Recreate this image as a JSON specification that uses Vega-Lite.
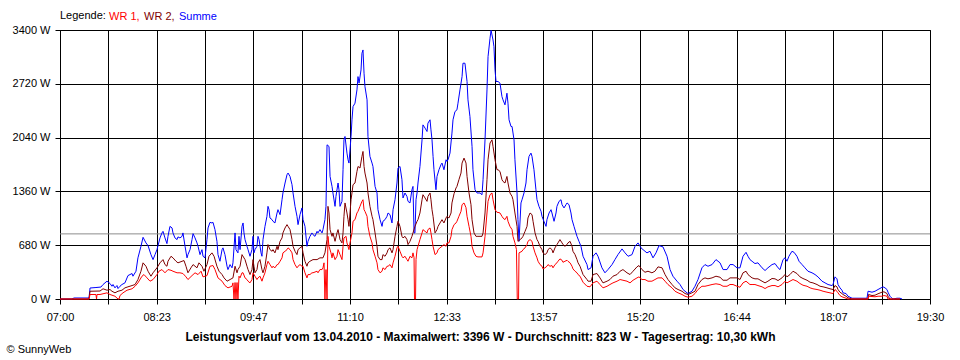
{
"$schema": "https://vega.github.io/schema/vega-lite/v6.json",
"width": 870, "height": 269,
"autosize": {"type": "none"},
"padding": {"left": 60, "top": 30, "right": 30, "bottom": 61},
"background": "white",
"config": {"view": {"stroke": "black", "strokeWidth": 1}, "font": "Liberation Sans"},
"layer": [
{"data": {"values": [{"avg": 823}]}, "mark": {"type": "rule", "color": "#8C8C8C", "strokeWidth": 1}, "encoding": {"y": {"field": "avg", "type": "quantitative"}}},
{"data": {"values": [
{"s":"Summe","t":420,"w":0},{"s":"Summe","t":430.3,"w":0},{"s":"Summe","t":432.1,"w":13},{"s":"Summe","t":445,"w":13},{"s":"Summe","t":445.9,"w":139},{"s":"Summe","t":451,"w":145},{"s":"Summe","t":455.3,"w":151},{"s":"Summe","t":457.1,"w":183},{"s":"Summe","t":460.5,"w":225},{"s":"Summe","t":463.1,"w":196},{"s":"Summe","t":464.8,"w":161},{"s":"Summe","t":465.7,"w":183},{"s":"Summe","t":467.4,"w":141},{"s":"Summe","t":469.1,"w":170},{"s":"Summe","t":470,"w":132},{"s":"Summe","t":471.7,"w":161},{"s":"Summe","t":473.4,"w":183},{"s":"Summe","t":476,"w":204},{"s":"Summe","t":478.6,"w":296},{"s":"Summe","t":482.1,"w":322},{"s":"Summe","t":482.9,"w":288},{"s":"Summe","t":485.5,"w":351},{"s":"Summe","t":487.2,"w":520},{"s":"Summe","t":489.8,"w":666},{"s":"Summe","t":491.6,"w":780},{"s":"Summe","t":494.1,"w":709},{"s":"Summe","t":495.9,"w":675},{"s":"Summe","t":498.4,"w":561},{"s":"Summe","t":500.2,"w":498},{"s":"Summe","t":501.9,"w":561},{"s":"Summe","t":503.6,"w":624},{"s":"Summe","t":504.5,"w":675},{"s":"Summe","t":506.2,"w":772},{"s":"Summe","t":507.9,"w":835},{"s":"Summe","t":508.8,"w":855},{"s":"Summe","t":510.5,"w":772},{"s":"Summe","t":512.2,"w":700},{"s":"Summe","t":513.1,"w":792},{"s":"Summe","t":514.8,"w":918},{"s":"Summe","t":516.6,"w":898},{"s":"Summe","t":517.4,"w":835},{"s":"Summe","t":519.1,"w":772},{"s":"Summe","t":520.9,"w":751},{"s":"Summe","t":521.7,"w":785},{"s":"Summe","t":523.4,"w":772},{"s":"Summe","t":525.2,"w":792},{"s":"Summe","t":526,"w":835},{"s":"Summe","t":527.8,"w":666},{"s":"Summe","t":529.5,"w":520},{"s":"Summe","t":530.3,"w":561},{"s":"Summe","t":532.1,"w":624},{"s":"Summe","t":533.8,"w":751},{"s":"Summe","t":534.7,"w":826},{"s":"Summe","t":536.4,"w":772},{"s":"Summe","t":538.1,"w":709},{"s":"Summe","t":539,"w":666},{"s":"Summe","t":540.7,"w":561},{"s":"Summe","t":542.4,"w":624},{"s":"Summe","t":543.3,"w":540},{"s":"Summe","t":545,"w":520},{"s":"Summe","t":546.7,"w":751},{"s":"Summe","t":547.6,"w":898},{"s":"Summe","t":549.3,"w":969},{"s":"Summe","t":551,"w":961},{"s":"Summe","t":551.9,"w":969},{"s":"Summe","t":553.6,"w":877},{"s":"Summe","t":555.3,"w":729},{"s":"Summe","t":556.2,"w":561},{"s":"Summe","t":557.9,"w":477},{"s":"Summe","t":559.7,"w":624},{"s":"Summe","t":560.5,"w":646},{"s":"Summe","t":562.2,"w":561},{"s":"Summe","t":564,"w":414},{"s":"Summe","t":564.8,"w":372},{"s":"Summe","t":566.6,"w":435},{"s":"Summe","t":568.3,"w":394},{"s":"Summe","t":569.1,"w":457},{"s":"Summe","t":570.9,"w":835},{"s":"Summe","t":571.7,"w":624},{"s":"Summe","t":573.4,"w":583},{"s":"Summe","t":574.3,"w":792},{"s":"Summe","t":575.2,"w":624},{"s":"Summe","t":576.9,"w":918},{"s":"Summe","t":577.8,"w":961},{"s":"Summe","t":578.6,"w":835},{"s":"Summe","t":579.5,"w":751},{"s":"Summe","t":581.2,"w":666},{"s":"Summe","t":582.1,"w":624},{"s":"Summe","t":583.8,"w":540},{"s":"Summe","t":585.5,"w":624},{"s":"Summe","t":586.4,"w":792},{"s":"Summe","t":587.2,"w":583},{"s":"Summe","t":588.1,"w":624},{"s":"Summe","t":589.8,"w":666},{"s":"Summe","t":590.7,"w":792},{"s":"Summe","t":591.6,"w":751},{"s":"Summe","t":593.3,"w":583},{"s":"Summe","t":594.1,"w":540},{"s":"Summe","t":595,"w":751},{"s":"Summe","t":596.7,"w":918},{"s":"Summe","t":598.4,"w":1045},{"s":"Summe","t":599.3,"w":1171},{"s":"Summe","t":600.2,"w":1129},{"s":"Summe","t":601,"w":1024},{"s":"Summe","t":602.8,"w":1003},{"s":"Summe","t":603.6,"w":982},{"s":"Summe","t":605.3,"w":961},{"s":"Summe","t":607.1,"w":1087},{"s":"Summe","t":607.9,"w":1129},{"s":"Summe","t":609.7,"w":1066},{"s":"Summe","t":611.4,"w":1255},{"s":"Summe","t":612.2,"w":1340},{"s":"Summe","t":614,"w":1466},{"s":"Summe","t":615.7,"w":1571},{"s":"Summe","t":616.6,"w":1592},{"s":"Summe","t":618.3,"w":1549},{"s":"Summe","t":620,"w":1445},{"s":"Summe","t":620.9,"w":1340},{"s":"Summe","t":622.6,"w":1171},{"s":"Summe","t":624.3,"w":1045},{"s":"Summe","t":625.2,"w":940},{"s":"Summe","t":626.9,"w":1066},{"s":"Summe","t":628.6,"w":1151},{"s":"Summe","t":629.5,"w":1003},{"s":"Summe","t":631.2,"w":918},{"s":"Summe","t":632.9,"w":666},{"s":"Summe","t":633.8,"w":729},{"s":"Summe","t":635.5,"w":792},{"s":"Summe","t":637.2,"w":835},{"s":"Summe","t":638.1,"w":814},{"s":"Summe","t":639.8,"w":792},{"s":"Summe","t":641.6,"w":855},{"s":"Summe","t":642.4,"w":835},{"s":"Summe","t":644.1,"w":877},{"s":"Summe","t":645.9,"w":835},{"s":"Summe","t":646.7,"w":877},{"s":"Summe","t":648.4,"w":1003},{"s":"Summe","t":649.3,"w":1171},{"s":"Summe","t":650.2,"w":1949},{"s":"Summe","t":651.9,"w":1928},{"s":"Summe","t":652.8,"w":1549},{"s":"Summe","t":654.5,"w":1423},{"s":"Summe","t":655.3,"w":1340},{"s":"Summe","t":657.1,"w":1171},{"s":"Summe","t":657.9,"w":1297},{"s":"Summe","t":659.7,"w":1466},{"s":"Summe","t":660.5,"w":1381},{"s":"Summe","t":661.4,"w":1171},{"s":"Summe","t":663.1,"w":1234},{"s":"Summe","t":664,"w":1634},{"s":"Summe","t":664.8,"w":2012},{"s":"Summe","t":665.7,"w":2054},{"s":"Summe","t":667.4,"w":1844},{"s":"Summe","t":668.3,"w":1760},{"s":"Summe","t":669.1,"w":1718},{"s":"Summe","t":670.9,"w":2054},{"s":"Summe","t":671.7,"w":2265},{"s":"Summe","t":672.6,"w":2432},{"s":"Summe","t":674.3,"w":2475},{"s":"Summe","t":676,"w":2643},{"s":"Summe","t":676.9,"w":2811},{"s":"Summe","t":677.8,"w":2728},{"s":"Summe","t":679.5,"w":2895},{"s":"Summe","t":680.3,"w":3106},{"s":"Summe","t":681.2,"w":3148},{"s":"Summe","t":682.1,"w":2854},{"s":"Summe","t":682.9,"w":2685},{"s":"Summe","t":684.7,"w":2517},{"s":"Summe","t":685.5,"w":2054},{"s":"Summe","t":687.2,"w":1802},{"s":"Summe","t":689,"w":1718},{"s":"Summe","t":689.8,"w":1675},{"s":"Summe","t":691.6,"w":1423},{"s":"Summe","t":693.3,"w":1340},{"s":"Summe","t":694.1,"w":1129},{"s":"Summe","t":695.9,"w":1003},{"s":"Summe","t":697.6,"w":918},{"s":"Summe","t":698.4,"w":982},{"s":"Summe","t":700.2,"w":1003},{"s":"Summe","t":701.9,"w":1045},{"s":"Summe","t":702.8,"w":1087},{"s":"Summe","t":704.5,"w":1066},{"s":"Summe","t":706.2,"w":961},{"s":"Summe","t":707.1,"w":1129},{"s":"Summe","t":708.8,"w":1255},{"s":"Summe","t":710.5,"w":1466},{"s":"Summe","t":711.4,"w":1655},{"s":"Summe","t":713.1,"w":1675},{"s":"Summe","t":714.8,"w":1508},{"s":"Summe","t":715.7,"w":1277},{"s":"Summe","t":717.4,"w":1340},{"s":"Summe","t":719.1,"w":1297},{"s":"Summe","t":720,"w":1234},{"s":"Summe","t":721.7,"w":1214},{"s":"Summe","t":723.4,"w":1381},{"s":"Summe","t":724.3,"w":1423},{"s":"Summe","t":725.2,"w":835},{"s":"Summe","t":726,"w":835},{"s":"Summe","t":726.9,"w":1255},{"s":"Summe","t":727.8,"w":1340},{"s":"Summe","t":728.6,"w":1466},{"s":"Summe","t":730.3,"w":1675},{"s":"Summe","t":732.1,"w":2012},{"s":"Summe","t":732.9,"w":2201},{"s":"Summe","t":734.7,"w":2160},{"s":"Summe","t":736.4,"w":2117},{"s":"Summe","t":737.2,"w":2223},{"s":"Summe","t":739,"w":2265},{"s":"Summe","t":739.8,"w":2138},{"s":"Summe","t":740.7,"w":2012},{"s":"Summe","t":741.6,"w":1802},{"s":"Summe","t":742.4,"w":1634},{"s":"Summe","t":744.1,"w":1381},{"s":"Summe","t":745,"w":1549},{"s":"Summe","t":746.7,"w":1634},{"s":"Summe","t":748.4,"w":1697},{"s":"Summe","t":749.3,"w":1718},{"s":"Summe","t":751,"w":1634},{"s":"Summe","t":752.8,"w":1760},{"s":"Summe","t":753.6,"w":1739},{"s":"Summe","t":754.5,"w":1760},{"s":"Summe","t":756.2,"w":1844},{"s":"Summe","t":757.9,"w":2097},{"s":"Summe","t":758.8,"w":2265},{"s":"Summe","t":760.5,"w":2369},{"s":"Summe","t":762.2,"w":2391},{"s":"Summe","t":763.1,"w":2475},{"s":"Summe","t":764.8,"w":2643},{"s":"Summe","t":766.6,"w":2811},{"s":"Summe","t":767.4,"w":2980},{"s":"Summe","t":769.1,"w":2980},{"s":"Summe","t":770.9,"w":2749},{"s":"Summe","t":771.7,"w":2517},{"s":"Summe","t":773.4,"w":2306},{"s":"Summe","t":775.2,"w":1928},{"s":"Summe","t":776,"w":1634},{"s":"Summe","t":777.8,"w":1381},{"s":"Summe","t":779.5,"w":1340},{"s":"Summe","t":782.1,"w":1340},{"s":"Summe","t":783.8,"w":1318},{"s":"Summe","t":784.7,"w":1508},{"s":"Summe","t":786.4,"w":2012},{"s":"Summe","t":788.1,"w":2643},{"s":"Summe","t":789,"w":3063},{"s":"Summe","t":790.7,"w":3295},{"s":"Summe","t":791.6,"w":3396},{"s":"Summe","t":793.3,"w":3274},{"s":"Summe","t":794.1,"w":3189},{"s":"Summe","t":795,"w":2895},{"s":"Summe","t":795.9,"w":2749},{"s":"Summe","t":797.6,"w":2749},{"s":"Summe","t":799.3,"w":2728},{"s":"Summe","t":801,"w":2558},{"s":"Summe","t":801.9,"w":2517},{"s":"Summe","t":803.6,"w":2454},{"s":"Summe","t":805.3,"w":2601},{"s":"Summe","t":806.2,"w":2475},{"s":"Summe","t":807.1,"w":2265},{"s":"Summe","t":808.8,"w":2180},{"s":"Summe","t":809.7,"w":2180},{"s":"Summe","t":811.4,"w":2012},{"s":"Summe","t":812.2,"w":1760},{"s":"Summe","t":814,"w":1340},{"s":"Summe","t":814.8,"w":1003},{"s":"Summe","t":815.7,"w":729},{"s":"Summe","t":817.4,"w":1214},{"s":"Summe","t":818.3,"w":1255},{"s":"Summe","t":820,"w":1340},{"s":"Summe","t":821.7,"w":1466},{"s":"Summe","t":822.6,"w":1634},{"s":"Summe","t":824.3,"w":1802},{"s":"Summe","t":826,"w":1844},{"s":"Summe","t":826.9,"w":1802},{"s":"Summe","t":828.6,"w":1634},{"s":"Summe","t":830.3,"w":1381},{"s":"Summe","t":831.2,"w":1255},{"s":"Summe","t":832.9,"w":1171},{"s":"Summe","t":834.7,"w":1108},{"s":"Summe","t":835.5,"w":1045},{"s":"Summe","t":837.2,"w":982},{"s":"Summe","t":839,"w":918},{"s":"Summe","t":839.8,"w":1003},{"s":"Summe","t":841.6,"w":1087},{"s":"Summe","t":843.3,"w":1129},{"s":"Summe","t":844.1,"w":1087},{"s":"Summe","t":845.9,"w":982},{"s":"Summe","t":847.6,"w":1087},{"s":"Summe","t":848.4,"w":1171},{"s":"Summe","t":850.2,"w":1234},{"s":"Summe","t":851.9,"w":1255},{"s":"Summe","t":852.8,"w":1192},{"s":"Summe","t":854.5,"w":1151},{"s":"Summe","t":856.2,"w":1192},{"s":"Summe","t":857.1,"w":1214},{"s":"Summe","t":858.8,"w":1192},{"s":"Summe","t":860.5,"w":1087},{"s":"Summe","t":861.4,"w":1003},{"s":"Summe","t":863.1,"w":918},{"s":"Summe","t":864.8,"w":835},{"s":"Summe","t":865.7,"w":792},{"s":"Summe","t":867.4,"w":729},{"s":"Summe","t":869.1,"w":666},{"s":"Summe","t":870.9,"w":540},{"s":"Summe","t":874.3,"w":435},{"s":"Summe","t":875.2,"w":372},{"s":"Summe","t":877.8,"w":394},{"s":"Summe","t":879.5,"w":540},{"s":"Summe","t":882.1,"w":583},{"s":"Summe","t":883.8,"w":540},{"s":"Summe","t":887.2,"w":394},{"s":"Summe","t":889.8,"w":331},{"s":"Summe","t":892.4,"w":372},{"s":"Summe","t":895.9,"w":435},{"s":"Summe","t":898.4,"w":498},{"s":"Summe","t":901,"w":561},{"s":"Summe","t":904.5,"w":633},{"s":"Summe","t":907.1,"w":583},{"s":"Summe","t":909.7,"w":540},{"s":"Summe","t":913.1,"w":561},{"s":"Summe","t":915.7,"w":666},{"s":"Summe","t":918.3,"w":709},{"s":"Summe","t":920.9,"w":646},{"s":"Summe","t":922.6,"w":624},{"s":"Summe","t":926,"w":583},{"s":"Summe","t":928.6,"w":603},{"s":"Summe","t":931.2,"w":520},{"s":"Summe","t":933.8,"w":583},{"s":"Summe","t":936.4,"w":675},{"s":"Summe","t":939.8,"w":659},{"s":"Summe","t":943.3,"w":540},{"s":"Summe","t":945.9,"w":372},{"s":"Summe","t":948.4,"w":288},{"s":"Summe","t":951.9,"w":225},{"s":"Summe","t":954.5,"w":183},{"s":"Summe","t":957.1,"w":120},{"s":"Summe","t":960.5,"w":78},{"s":"Summe","t":961.4,"w":69},{"s":"Summe","t":964.8,"w":98},{"s":"Summe","t":967.4,"w":161},{"s":"Summe","t":970,"w":246},{"s":"Summe","t":973.4,"w":394},{"s":"Summe","t":976,"w":435},{"s":"Summe","t":978.6,"w":414},{"s":"Summe","t":982.1,"w":435},{"s":"Summe","t":985.5,"w":498},{"s":"Summe","t":989,"w":457},{"s":"Summe","t":991.6,"w":372},{"s":"Summe","t":995,"w":372},{"s":"Summe","t":997.6,"w":435},{"s":"Summe","t":1000.2,"w":435},{"s":"Summe","t":1003.6,"w":394},{"s":"Summe","t":1006.2,"w":394},{"s":"Summe","t":1008.8,"w":540},{"s":"Summe","t":1011.4,"w":590},{"s":"Summe","t":1013.1,"w":540},{"s":"Summe","t":1014.8,"w":498},{"s":"Summe","t":1016.6,"w":477},{"s":"Summe","t":1019.1,"w":448},{"s":"Summe","t":1021.7,"w":457},{"s":"Summe","t":1025.2,"w":394},{"s":"Summe","t":1027.8,"w":360},{"s":"Summe","t":1030.3,"w":394},{"s":"Summe","t":1033.8,"w":435},{"s":"Summe","t":1036.4,"w":448},{"s":"Summe","t":1039,"w":394},{"s":"Summe","t":1040.7,"w":372},{"s":"Summe","t":1043.3,"w":498},{"s":"Summe","t":1045,"w":520},{"s":"Summe","t":1046.7,"w":477},{"s":"Summe","t":1048.4,"w":540},{"s":"Summe","t":1051,"w":603},{"s":"Summe","t":1052.8,"w":590},{"s":"Summe","t":1055.3,"w":540},{"s":"Summe","t":1057.1,"w":477},{"s":"Summe","t":1059.7,"w":435},{"s":"Summe","t":1062.2,"w":394},{"s":"Summe","t":1064.8,"w":351},{"s":"Summe","t":1068.3,"w":331},{"s":"Summe","t":1070.9,"w":309},{"s":"Summe","t":1073.4,"w":280},{"s":"Summe","t":1076.9,"w":225},{"s":"Summe","t":1079.5,"w":204},{"s":"Summe","t":1082.1,"w":183},{"s":"Summe","t":1085.5,"w":170},{"s":"Summe","t":1086.4,"w":183},{"s":"Summe","t":1088.1,"w":280},{"s":"Summe","t":1089.8,"w":255},{"s":"Summe","t":1090.7,"w":183},{"s":"Summe","t":1092.4,"w":141},{"s":"Summe","t":1094.1,"w":111},{"s":"Summe","t":1095,"w":78},{"s":"Summe","t":1097.6,"w":69},{"s":"Summe","t":1099.3,"w":35},{"s":"Summe","t":1102.8,"w":10},{"s":"Summe","t":1115.7,"w":10},{"s":"Summe","t":1116.6,"w":98},{"s":"Summe","t":1120,"w":86},{"s":"Summe","t":1122.6,"w":98},{"s":"Summe","t":1125.2,"w":120},{"s":"Summe","t":1127.8,"w":141},{"s":"Summe","t":1129.5,"w":154},{"s":"Summe","t":1131.2,"w":141},{"s":"Summe","t":1132.9,"w":120},{"s":"Summe","t":1133.8,"w":86},{"s":"Summe","t":1135.5,"w":35},{"s":"Summe","t":1137.2,"w":10},{"s":"Summe","t":1138.1,"w":0},{"s":"Summe","t":1141.6,"w":10},{"s":"Summe","t":1144.1,"w":10},{"s":"Summe","t":1145.9,"w":0},
{"s":"WR 2","t":420,"w":0},{"s":"WR 2","t":445,"w":0},{"s":"WR 2","t":445.9,"w":98},{"s":"WR 2","t":454.5,"w":101},{"s":"WR 2","t":457.1,"w":129},{"s":"WR 2","t":460.5,"w":111},{"s":"WR 2","t":463.1,"w":120},{"s":"WR 2","t":464.8,"w":98},{"s":"WR 2","t":467.4,"w":78},{"s":"WR 2","t":470,"w":98},{"s":"WR 2","t":473.4,"w":111},{"s":"WR 2","t":476,"w":141},{"s":"WR 2","t":478.6,"w":154},{"s":"WR 2","t":482.1,"w":170},{"s":"WR 2","t":484.7,"w":183},{"s":"WR 2","t":487.2,"w":246},{"s":"WR 2","t":489.8,"w":351},{"s":"WR 2","t":491.6,"w":457},{"s":"WR 2","t":494.1,"w":414},{"s":"WR 2","t":495.9,"w":351},{"s":"WR 2","t":498.4,"w":288},{"s":"WR 2","t":500.2,"w":331},{"s":"WR 2","t":503.6,"w":394},{"s":"WR 2","t":506.2,"w":457},{"s":"WR 2","t":508.8,"w":498},{"s":"WR 2","t":510.5,"w":435},{"s":"WR 2","t":512.2,"w":414},{"s":"WR 2","t":513.1,"w":477},{"s":"WR 2","t":515.7,"w":540},{"s":"WR 2","t":517.4,"w":520},{"s":"WR 2","t":520,"w":477},{"s":"WR 2","t":521.7,"w":457},{"s":"WR 2","t":525.2,"w":477},{"s":"WR 2","t":526.9,"w":486},{"s":"WR 2","t":528.6,"w":414},{"s":"WR 2","t":530.3,"w":331},{"s":"WR 2","t":532.9,"w":394},{"s":"WR 2","t":534.7,"w":435},{"s":"WR 2","t":538.1,"w":394},{"s":"WR 2","t":539.8,"w":457},{"s":"WR 2","t":542.4,"w":414},{"s":"WR 2","t":544.1,"w":351},{"s":"WR 2","t":546.7,"w":435},{"s":"WR 2","t":548.4,"w":540},{"s":"WR 2","t":551,"w":583},{"s":"WR 2","t":552.8,"w":540},{"s":"WR 2","t":555.3,"w":414},{"s":"WR 2","t":557.1,"w":351},{"s":"WR 2","t":559.7,"w":309},{"s":"WR 2","t":561.4,"w":267},{"s":"WR 2","t":564,"w":225},{"s":"WR 2","t":566.6,"w":246},{"s":"WR 2","t":569.1,"w":267},{"s":"WR 2","t":570.9,"w":414},{"s":"WR 2","t":572.6,"w":331},{"s":"WR 2","t":573.4,"w":372},{"s":"WR 2","t":575.2,"w":414},{"s":"WR 2","t":576.9,"w":561},{"s":"WR 2","t":579.5,"w":498},{"s":"WR 2","t":581.2,"w":414},{"s":"WR 2","t":582.1,"w":372},{"s":"WR 2","t":583.8,"w":309},{"s":"WR 2","t":585.5,"w":372},{"s":"WR 2","t":586.4,"w":498},{"s":"WR 2","t":587.2,"w":414},{"s":"WR 2","t":588.1,"w":331},{"s":"WR 2","t":589.8,"w":372},{"s":"WR 2","t":590.7,"w":457},{"s":"WR 2","t":592.4,"w":498},{"s":"WR 2","t":594.1,"w":372},{"s":"WR 2","t":595,"w":331},{"s":"WR 2","t":596.7,"w":414},{"s":"WR 2","t":598.4,"w":583},{"s":"WR 2","t":599.3,"w":688},{"s":"WR 2","t":601,"w":624},{"s":"WR 2","t":602.8,"w":603},{"s":"WR 2","t":603.6,"w":624},{"s":"WR 2","t":605.3,"w":583},{"s":"WR 2","t":607.1,"w":666},{"s":"WR 2","t":607.9,"w":624},{"s":"WR 2","t":609.7,"w":729},{"s":"WR 2","t":611.4,"w":772},{"s":"WR 2","t":612.2,"w":835},{"s":"WR 2","t":614,"w":898},{"s":"WR 2","t":615.7,"w":940},{"s":"WR 2","t":616.6,"w":918},{"s":"WR 2","t":618.3,"w":877},{"s":"WR 2","t":620,"w":751},{"s":"WR 2","t":620.9,"w":666},{"s":"WR 2","t":622.6,"w":603},{"s":"WR 2","t":624.3,"w":561},{"s":"WR 2","t":625.2,"w":624},{"s":"WR 2","t":626.9,"w":646},{"s":"WR 2","t":628.6,"w":666},{"s":"WR 2","t":629.5,"w":583},{"s":"WR 2","t":631.2,"w":477},{"s":"WR 2","t":632.9,"w":414},{"s":"WR 2","t":633.8,"w":457},{"s":"WR 2","t":635.5,"w":477},{"s":"WR 2","t":638.1,"w":498},{"s":"WR 2","t":641.6,"w":498},{"s":"WR 2","t":644.1,"w":520},{"s":"WR 2","t":646.7,"w":520},{"s":"WR 2","t":648.4,"w":583},{"s":"WR 2","t":650.2,"w":751},{"s":"WR 2","t":651,"w":1171},{"s":"WR 2","t":651.9,"w":1087},{"s":"WR 2","t":652.8,"w":877},{"s":"WR 2","t":654.5,"w":792},{"s":"WR 2","t":655.3,"w":835},{"s":"WR 2","t":657.1,"w":729},{"s":"WR 2","t":658.8,"w":835},{"s":"WR 2","t":659.7,"w":877},{"s":"WR 2","t":661.4,"w":751},{"s":"WR 2","t":663.1,"w":709},{"s":"WR 2","t":664,"w":835},{"s":"WR 2","t":664.8,"w":1045},{"s":"WR 2","t":665.7,"w":1214},{"s":"WR 2","t":667.4,"w":1087},{"s":"WR 2","t":668.3,"w":1003},{"s":"WR 2","t":669.1,"w":918},{"s":"WR 2","t":670.9,"w":1255},{"s":"WR 2","t":671.7,"w":1340},{"s":"WR 2","t":672.6,"w":1445},{"s":"WR 2","t":674.3,"w":1466},{"s":"WR 2","t":676,"w":1612},{"s":"WR 2","t":676.9,"w":1675},{"s":"WR 2","t":678.6,"w":1655},{"s":"WR 2","t":680.3,"w":1802},{"s":"WR 2","t":681.2,"w":1865},{"s":"WR 2","t":682.1,"w":1675},{"s":"WR 2","t":682.9,"w":1592},{"s":"WR 2","t":684.7,"w":1466},{"s":"WR 2","t":685.5,"w":1340},{"s":"WR 2","t":687.2,"w":1171},{"s":"WR 2","t":689,"w":1045},{"s":"WR 2","t":689.8,"w":1003},{"s":"WR 2","t":691.6,"w":835},{"s":"WR 2","t":693.3,"w":666},{"s":"WR 2","t":694.1,"w":540},{"s":"WR 2","t":695.9,"w":498},{"s":"WR 2","t":697.6,"w":498},{"s":"WR 2","t":698.4,"w":561},{"s":"WR 2","t":700.2,"w":540},{"s":"WR 2","t":701.9,"w":583},{"s":"WR 2","t":702.8,"w":624},{"s":"WR 2","t":704.5,"w":646},{"s":"WR 2","t":706.2,"w":583},{"s":"WR 2","t":707.1,"w":624},{"s":"WR 2","t":708.8,"w":792},{"s":"WR 2","t":710.5,"w":918},{"s":"WR 2","t":711.4,"w":982},{"s":"WR 2","t":713.1,"w":918},{"s":"WR 2","t":714.8,"w":792},{"s":"WR 2","t":715.7,"w":772},{"s":"WR 2","t":717.4,"w":792},{"s":"WR 2","t":719.1,"w":751},{"s":"WR 2","t":720,"w":688},{"s":"WR 2","t":721.7,"w":729},{"s":"WR 2","t":723.4,"w":792},{"s":"WR 2","t":724.3,"w":835},{"s":"WR 2","t":726,"w":918},{"s":"WR 2","t":727.8,"w":982},{"s":"WR 2","t":728.6,"w":1003},{"s":"WR 2","t":730.3,"w":1087},{"s":"WR 2","t":732.1,"w":1255},{"s":"WR 2","t":732.9,"w":1318},{"s":"WR 2","t":734.7,"w":1277},{"s":"WR 2","t":736.4,"w":1234},{"s":"WR 2","t":737.2,"w":1297},{"s":"WR 2","t":739,"w":1340},{"s":"WR 2","t":739.8,"w":1255},{"s":"WR 2","t":740.7,"w":1129},{"s":"WR 2","t":741.6,"w":1045},{"s":"WR 2","t":743.3,"w":835},{"s":"WR 2","t":745,"w":877},{"s":"WR 2","t":745.9,"w":918},{"s":"WR 2","t":747.6,"w":961},{"s":"WR 2","t":749.3,"w":1003},{"s":"WR 2","t":751,"w":961},{"s":"WR 2","t":752.8,"w":1024},{"s":"WR 2","t":753.6,"w":1045},{"s":"WR 2","t":755.3,"w":1024},{"s":"WR 2","t":757.1,"w":1087},{"s":"WR 2","t":757.9,"w":1214},{"s":"WR 2","t":759.7,"w":1331},{"s":"WR 2","t":761.4,"w":1403},{"s":"WR 2","t":762.2,"w":1423},{"s":"WR 2","t":763.9,"w":1508},{"s":"WR 2","t":765.7,"w":1592},{"s":"WR 2","t":766.6,"w":1718},{"s":"WR 2","t":768.3,"w":1781},{"s":"WR 2","t":770,"w":1718},{"s":"WR 2","t":770.9,"w":1549},{"s":"WR 2","t":772.6,"w":1340},{"s":"WR 2","t":774.3,"w":1192},{"s":"WR 2","t":775.2,"w":1003},{"s":"WR 2","t":776.9,"w":835},{"s":"WR 2","t":778.6,"w":792},{"s":"WR 2","t":780.3,"w":792},{"s":"WR 2","t":783.8,"w":792},{"s":"WR 2","t":784.7,"w":835},{"s":"WR 2","t":786.4,"w":1087},{"s":"WR 2","t":788.1,"w":1508},{"s":"WR 2","t":789,"w":1760},{"s":"WR 2","t":790.7,"w":1971},{"s":"WR 2","t":792.4,"w":2012},{"s":"WR 2","t":793.3,"w":1928},{"s":"WR 2","t":795,"w":1760},{"s":"WR 2","t":796.7,"w":1634},{"s":"WR 2","t":797.6,"w":1634},{"s":"WR 2","t":799.3,"w":1612},{"s":"WR 2","t":801,"w":1508},{"s":"WR 2","t":801.9,"w":1486},{"s":"WR 2","t":803.6,"w":1466},{"s":"WR 2","t":805.3,"w":1549},{"s":"WR 2","t":806.2,"w":1466},{"s":"WR 2","t":807.9,"w":1340},{"s":"WR 2","t":809.7,"w":1297},{"s":"WR 2","t":810.5,"w":1255},{"s":"WR 2","t":812.2,"w":1087},{"s":"WR 2","t":814,"w":918},{"s":"WR 2","t":814.8,"w":729},{"s":"WR 2","t":816.6,"w":751},{"s":"WR 2","t":818.3,"w":772},{"s":"WR 2","t":819.1,"w":792},{"s":"WR 2","t":820.9,"w":855},{"s":"WR 2","t":822.6,"w":918},{"s":"WR 2","t":823.4,"w":1024},{"s":"WR 2","t":825.2,"w":1087},{"s":"WR 2","t":826.9,"w":1066},{"s":"WR 2","t":827.8,"w":982},{"s":"WR 2","t":829.5,"w":835},{"s":"WR 2","t":831.2,"w":751},{"s":"WR 2","t":832.1,"w":729},{"s":"WR 2","t":833.8,"w":666},{"s":"WR 2","t":835.5,"w":624},{"s":"WR 2","t":836.4,"w":583},{"s":"WR 2","t":838.1,"w":561},{"s":"WR 2","t":839.8,"w":583},{"s":"WR 2","t":840.7,"w":624},{"s":"WR 2","t":842.4,"w":646},{"s":"WR 2","t":844.1,"w":624},{"s":"WR 2","t":845,"w":583},{"s":"WR 2","t":846.7,"w":646},{"s":"WR 2","t":848.4,"w":688},{"s":"WR 2","t":849.3,"w":709},{"s":"WR 2","t":851,"w":751},{"s":"WR 2","t":852.8,"w":709},{"s":"WR 2","t":853.6,"w":688},{"s":"WR 2","t":855.3,"w":666},{"s":"WR 2","t":857.1,"w":688},{"s":"WR 2","t":857.9,"w":709},{"s":"WR 2","t":859.7,"w":729},{"s":"WR 2","t":861.4,"w":666},{"s":"WR 2","t":862.2,"w":603},{"s":"WR 2","t":864,"w":561},{"s":"WR 2","t":865.7,"w":498},{"s":"WR 2","t":866.6,"w":457},{"s":"WR 2","t":868.3,"w":414},{"s":"WR 2","t":870.9,"w":309},{"s":"WR 2","t":874.3,"w":246},{"s":"WR 2","t":875.2,"w":225},{"s":"WR 2","t":877.8,"w":225},{"s":"WR 2","t":879.5,"w":309},{"s":"WR 2","t":882.9,"w":322},{"s":"WR 2","t":885.5,"w":267},{"s":"WR 2","t":888.1,"w":204},{"s":"WR 2","t":891.6,"w":225},{"s":"WR 2","t":894.1,"w":246},{"s":"WR 2","t":896.7,"w":288},{"s":"WR 2","t":900.2,"w":309},{"s":"WR 2","t":902.8,"w":351},{"s":"WR 2","t":905.3,"w":372},{"s":"WR 2","t":908.8,"w":331},{"s":"WR 2","t":911.4,"w":309},{"s":"WR 2","t":914,"w":351},{"s":"WR 2","t":917.4,"w":406},{"s":"WR 2","t":919.1,"w":423},{"s":"WR 2","t":921.7,"w":372},{"s":"WR 2","t":924.3,"w":338},{"s":"WR 2","t":926.9,"w":351},{"s":"WR 2","t":930.3,"w":331},{"s":"WR 2","t":932.9,"w":351},{"s":"WR 2","t":935.5,"w":406},{"s":"WR 2","t":939,"w":394},{"s":"WR 2","t":941.6,"w":309},{"s":"WR 2","t":944.1,"w":246},{"s":"WR 2","t":947.6,"w":183},{"s":"WR 2","t":950.2,"w":141},{"s":"WR 2","t":952.8,"w":120},{"s":"WR 2","t":956.2,"w":98},{"s":"WR 2","t":958.8,"w":69},{"s":"WR 2","t":961.4,"w":57},{"s":"WR 2","t":964.8,"w":78},{"s":"WR 2","t":967.4,"w":98},{"s":"WR 2","t":970,"w":183},{"s":"WR 2","t":973.4,"w":246},{"s":"WR 2","t":976,"w":267},{"s":"WR 2","t":978.6,"w":255},{"s":"WR 2","t":982.1,"w":267},{"s":"WR 2","t":985.5,"w":288},{"s":"WR 2","t":989,"w":275},{"s":"WR 2","t":991.6,"w":237},{"s":"WR 2","t":995,"w":237},{"s":"WR 2","t":997.6,"w":267},{"s":"WR 2","t":1000.2,"w":267},{"s":"WR 2","t":1003.6,"w":267},{"s":"WR 2","t":1006.2,"w":246},{"s":"WR 2","t":1008.8,"w":331},{"s":"WR 2","t":1011.4,"w":351},{"s":"WR 2","t":1013.1,"w":309},{"s":"WR 2","t":1014.8,"w":288},{"s":"WR 2","t":1016.6,"w":267},{"s":"WR 2","t":1019.1,"w":255},{"s":"WR 2","t":1021.7,"w":255},{"s":"WR 2","t":1025.2,"w":225},{"s":"WR 2","t":1027.8,"w":204},{"s":"WR 2","t":1030.3,"w":225},{"s":"WR 2","t":1033.8,"w":259},{"s":"WR 2","t":1036.4,"w":255},{"s":"WR 2","t":1039,"w":233},{"s":"WR 2","t":1042.4,"w":267},{"s":"WR 2","t":1045,"w":309},{"s":"WR 2","t":1046.7,"w":280},{"s":"WR 2","t":1049.3,"w":309},{"s":"WR 2","t":1051.9,"w":351},{"s":"WR 2","t":1055.3,"w":322},{"s":"WR 2","t":1057.9,"w":280},{"s":"WR 2","t":1060.5,"w":259},{"s":"WR 2","t":1064,"w":237},{"s":"WR 2","t":1066.6,"w":212},{"s":"WR 2","t":1069.1,"w":204},{"s":"WR 2","t":1072.6,"w":183},{"s":"WR 2","t":1075.2,"w":161},{"s":"WR 2","t":1077.8,"w":154},{"s":"WR 2","t":1081.2,"w":141},{"s":"WR 2","t":1083.8,"w":129},{"s":"WR 2","t":1086.4,"w":120},{"s":"WR 2","t":1088.1,"w":170},{"s":"WR 2","t":1089.8,"w":154},{"s":"WR 2","t":1090.7,"w":120},{"s":"WR 2","t":1092.4,"w":86},{"s":"WR 2","t":1094.1,"w":69},{"s":"WR 2","t":1095,"w":57},{"s":"WR 2","t":1097.6,"w":35},{"s":"WR 2","t":1099.3,"w":15},{"s":"WR 2","t":1102.8,"w":0},{"s":"WR 2","t":1116.6,"w":0},{"s":"WR 2","t":1117,"w":57},{"s":"WR 2","t":1120,"w":44},{"s":"WR 2","t":1122.6,"w":48},{"s":"WR 2","t":1125.2,"w":66},{"s":"WR 2","t":1128.6,"w":86},{"s":"WR 2","t":1130.3,"w":91},{"s":"WR 2","t":1132.9,"w":69},{"s":"WR 2","t":1133.8,"w":35},{"s":"WR 2","t":1135.5,"w":0},{"s":"WR 2","t":1144.1,"w":0},
{"s":"WR 1","t":420,"w":0},{"s":"WR 1","t":445,"w":0},{"s":"WR 1","t":445.9,"w":57},{"s":"WR 1","t":451,"w":57},{"s":"WR 1","t":451.5,"w":0},{"s":"WR 1","t":451.9,"w":57},{"s":"WR 1","t":454.5,"w":57},{"s":"WR 1","t":460.5,"w":78},{"s":"WR 1","t":463.1,"w":57},{"s":"WR 1","t":467.4,"w":35},{"s":"WR 1","t":470,"w":0},{"s":"WR 1","t":470.9,"w":0},{"s":"WR 1","t":471.7,"w":44},{"s":"WR 1","t":474.3,"w":78},{"s":"WR 1","t":477.8,"w":111},{"s":"WR 1","t":482.1,"w":129},{"s":"WR 1","t":484.7,"w":161},{"s":"WR 1","t":487.2,"w":204},{"s":"WR 1","t":490.7,"w":288},{"s":"WR 1","t":492.4,"w":309},{"s":"WR 1","t":495,"w":267},{"s":"WR 1","t":497.6,"w":225},{"s":"WR 1","t":500.2,"w":246},{"s":"WR 1","t":503.6,"w":309},{"s":"WR 1","t":505.3,"w":351},{"s":"WR 1","t":507.9,"w":372},{"s":"WR 1","t":510.5,"w":331},{"s":"WR 1","t":513.1,"w":372},{"s":"WR 1","t":515.7,"w":363},{"s":"WR 1","t":517.4,"w":351},{"s":"WR 1","t":520.9,"w":331},{"s":"WR 1","t":523.4,"w":331},{"s":"WR 1","t":526,"w":322},{"s":"WR 1","t":528.6,"w":280},{"s":"WR 1","t":530.3,"w":246},{"s":"WR 1","t":533.8,"w":296},{"s":"WR 1","t":536.4,"w":331},{"s":"WR 1","t":539,"w":309},{"s":"WR 1","t":541.6,"w":351},{"s":"WR 1","t":543.3,"w":280},{"s":"WR 1","t":546.7,"w":296},{"s":"WR 1","t":549.3,"w":414},{"s":"WR 1","t":551.9,"w":423},{"s":"WR 1","t":553.6,"w":372},{"s":"WR 1","t":556.2,"w":267},{"s":"WR 1","t":559.7,"w":225},{"s":"WR 1","t":562.2,"w":170},{"s":"WR 1","t":564.8,"w":141},{"s":"WR 1","t":568.3,"w":161},{"s":"WR 1","t":569.1,"w":204},{"s":"WR 1","t":570,"w":0},{"s":"WR 1","t":570.9,"w":208},{"s":"WR 1","t":571.7,"w":0},{"s":"WR 1","t":572.6,"w":208},{"s":"WR 1","t":573.4,"w":0},{"s":"WR 1","t":574.3,"w":288},{"s":"WR 1","t":575.2,"w":267},{"s":"WR 1","t":576.9,"w":331},{"s":"WR 1","t":577.8,"w":331},{"s":"WR 1","t":579.5,"w":267},{"s":"WR 1","t":581.2,"w":246},{"s":"WR 1","t":582.1,"w":225},{"s":"WR 1","t":583.8,"w":204},{"s":"WR 1","t":585.5,"w":246},{"s":"WR 1","t":586.4,"w":331},{"s":"WR 1","t":588.1,"w":288},{"s":"WR 1","t":589.8,"w":246},{"s":"WR 1","t":590.7,"w":267},{"s":"WR 1","t":592.4,"w":288},{"s":"WR 1","t":594.1,"w":225},{"s":"WR 1","t":595,"w":267},{"s":"WR 1","t":596.7,"w":331},{"s":"WR 1","t":598.4,"w":435},{"s":"WR 1","t":599.3,"w":477},{"s":"WR 1","t":601,"w":435},{"s":"WR 1","t":602.8,"w":394},{"s":"WR 1","t":603.6,"w":414},{"s":"WR 1","t":605.3,"w":394},{"s":"WR 1","t":607.1,"w":435},{"s":"WR 1","t":607.9,"w":435},{"s":"WR 1","t":609.7,"w":477},{"s":"WR 1","t":611.4,"w":520},{"s":"WR 1","t":612.2,"w":583},{"s":"WR 1","t":614,"w":603},{"s":"WR 1","t":615.7,"w":624},{"s":"WR 1","t":616.6,"w":646},{"s":"WR 1","t":618.3,"w":624},{"s":"WR 1","t":620,"w":583},{"s":"WR 1","t":620.9,"w":498},{"s":"WR 1","t":622.6,"w":435},{"s":"WR 1","t":624.3,"w":394},{"s":"WR 1","t":625.2,"w":414},{"s":"WR 1","t":626.9,"w":435},{"s":"WR 1","t":628.6,"w":414},{"s":"WR 1","t":629.5,"w":414},{"s":"WR 1","t":631.2,"w":331},{"s":"WR 1","t":632.9,"w":267},{"s":"WR 1","t":633.8,"w":309},{"s":"WR 1","t":635.5,"w":309},{"s":"WR 1","t":637.2,"w":331},{"s":"WR 1","t":638.1,"w":331},{"s":"WR 1","t":641.6,"w":351},{"s":"WR 1","t":642.4,"w":331},{"s":"WR 1","t":644.1,"w":372},{"s":"WR 1","t":645.9,"w":372},{"s":"WR 1","t":646.7,"w":394},{"s":"WR 1","t":647.6,"w":457},{"s":"WR 1","t":648.4,"w":0},{"s":"WR 1","t":649.3,"w":372},{"s":"WR 1","t":650.2,"w":0},{"s":"WR 1","t":651,"w":792},{"s":"WR 1","t":651.9,"w":666},{"s":"WR 1","t":653.6,"w":583},{"s":"WR 1","t":654.5,"w":520},{"s":"WR 1","t":655.3,"w":583},{"s":"WR 1","t":657.1,"w":498},{"s":"WR 1","t":658.8,"w":540},{"s":"WR 1","t":659.7,"w":624},{"s":"WR 1","t":661.4,"w":561},{"s":"WR 1","t":663.1,"w":498},{"s":"WR 1","t":664,"w":666},{"s":"WR 1","t":664.8,"w":772},{"s":"WR 1","t":666.6,"w":792},{"s":"WR 1","t":667.4,"w":709},{"s":"WR 1","t":669.1,"w":624},{"s":"WR 1","t":670,"w":709},{"s":"WR 1","t":671.7,"w":835},{"s":"WR 1","t":672.6,"w":982},{"s":"WR 1","t":674.3,"w":1003},{"s":"WR 1","t":676,"w":1087},{"s":"WR 1","t":676.9,"w":1108},{"s":"WR 1","t":678.6,"w":1171},{"s":"WR 1","t":680.3,"w":1234},{"s":"WR 1","t":681.2,"w":1255},{"s":"WR 1","t":682.1,"w":1129},{"s":"WR 1","t":682.9,"w":1108},{"s":"WR 1","t":684.7,"w":1045},{"s":"WR 1","t":685.5,"w":918},{"s":"WR 1","t":687.2,"w":792},{"s":"WR 1","t":689,"w":709},{"s":"WR 1","t":689.8,"w":624},{"s":"WR 1","t":691.6,"w":540},{"s":"WR 1","t":693.3,"w":457},{"s":"WR 1","t":694.1,"w":372},{"s":"WR 1","t":695.9,"w":331},{"s":"WR 1","t":697.6,"w":351},{"s":"WR 1","t":698.4,"w":394},{"s":"WR 1","t":700.2,"w":372},{"s":"WR 1","t":701.9,"w":414},{"s":"WR 1","t":702.8,"w":414},{"s":"WR 1","t":704.5,"w":435},{"s":"WR 1","t":706.2,"w":394},{"s":"WR 1","t":707.1,"w":457},{"s":"WR 1","t":708.8,"w":540},{"s":"WR 1","t":710.5,"w":646},{"s":"WR 1","t":711.4,"w":666},{"s":"WR 1","t":713.1,"w":603},{"s":"WR 1","t":714.8,"w":540},{"s":"WR 1","t":715.7,"w":520},{"s":"WR 1","t":717.4,"w":540},{"s":"WR 1","t":719.1,"w":498},{"s":"WR 1","t":720,"w":477},{"s":"WR 1","t":721.7,"w":540},{"s":"WR 1","t":723.4,"w":520},{"s":"WR 1","t":724.3,"w":583},{"s":"WR 1","t":725.2,"w":524},{"s":"WR 1","t":725.6,"w":0},{"s":"WR 1","t":726.5,"w":0},{"s":"WR 1","t":726.9,"w":498},{"s":"WR 1","t":727.8,"w":624},{"s":"WR 1","t":728.6,"w":666},{"s":"WR 1","t":730.3,"w":751},{"s":"WR 1","t":732.1,"w":835},{"s":"WR 1","t":732.9,"w":877},{"s":"WR 1","t":734.7,"w":855},{"s":"WR 1","t":736.4,"w":835},{"s":"WR 1","t":737.2,"w":877},{"s":"WR 1","t":739,"w":898},{"s":"WR 1","t":739.8,"w":835},{"s":"WR 1","t":740.7,"w":751},{"s":"WR 1","t":741.6,"w":666},{"s":"WR 1","t":743.3,"w":561},{"s":"WR 1","t":745,"w":583},{"s":"WR 1","t":745.9,"w":624},{"s":"WR 1","t":747.6,"w":646},{"s":"WR 1","t":749.3,"w":666},{"s":"WR 1","t":751,"w":688},{"s":"WR 1","t":752.8,"w":666},{"s":"WR 1","t":753.6,"w":709},{"s":"WR 1","t":755.3,"w":709},{"s":"WR 1","t":757.1,"w":792},{"s":"WR 1","t":757.9,"w":877},{"s":"WR 1","t":759.7,"w":940},{"s":"WR 1","t":761.4,"w":961},{"s":"WR 1","t":762.2,"w":982},{"s":"WR 1","t":763.9,"w":1045},{"s":"WR 1","t":765.7,"w":1108},{"s":"WR 1","t":766.6,"w":1192},{"s":"WR 1","t":768.3,"w":1214},{"s":"WR 1","t":770,"w":1154},{"s":"WR 1","t":770.9,"w":1045},{"s":"WR 1","t":772.6,"w":918},{"s":"WR 1","t":774.3,"w":792},{"s":"WR 1","t":775.2,"w":666},{"s":"WR 1","t":776.9,"w":583},{"s":"WR 1","t":778.6,"w":540},{"s":"WR 1","t":780.3,"w":532},{"s":"WR 1","t":783.8,"w":532},{"s":"WR 1","t":784.7,"w":583},{"s":"WR 1","t":786.4,"w":792},{"s":"WR 1","t":788.1,"w":1087},{"s":"WR 1","t":789,"w":1234},{"s":"WR 1","t":790.7,"w":1318},{"s":"WR 1","t":792.4,"w":1340},{"s":"WR 1","t":793.3,"w":1255},{"s":"WR 1","t":795,"w":1129},{"s":"WR 1","t":796.7,"w":1095},{"s":"WR 1","t":797.6,"w":1095},{"s":"WR 1","t":799.3,"w":1087},{"s":"WR 1","t":801,"w":1045},{"s":"WR 1","t":801.9,"w":1024},{"s":"WR 1","t":803.6,"w":1003},{"s":"WR 1","t":805.3,"w":1045},{"s":"WR 1","t":806.2,"w":982},{"s":"WR 1","t":807.9,"w":918},{"s":"WR 1","t":809.7,"w":877},{"s":"WR 1","t":810.5,"w":792},{"s":"WR 1","t":812.2,"w":709},{"s":"WR 1","t":813.5,"w":624},{"s":"WR 1","t":814.2,"w":0},{"s":"WR 1","t":815.3,"w":0},{"s":"WR 1","t":815.7,"w":583},{"s":"WR 1","t":818.3,"w":603},{"s":"WR 1","t":819.1,"w":624},{"s":"WR 1","t":820.9,"w":646},{"s":"WR 1","t":822.6,"w":688},{"s":"WR 1","t":823.4,"w":729},{"s":"WR 1","t":825.2,"w":751},{"s":"WR 1","t":826.9,"w":729},{"s":"WR 1","t":827.8,"w":666},{"s":"WR 1","t":829.5,"w":583},{"s":"WR 1","t":831.2,"w":520},{"s":"WR 1","t":832.1,"w":477},{"s":"WR 1","t":833.8,"w":435},{"s":"WR 1","t":835.5,"w":414},{"s":"WR 1","t":836.4,"w":381},{"s":"WR 1","t":838.1,"w":394},{"s":"WR 1","t":839.8,"w":414},{"s":"WR 1","t":840.7,"w":435},{"s":"WR 1","t":842.4,"w":414},{"s":"WR 1","t":844.1,"w":423},{"s":"WR 1","t":845,"w":394},{"s":"WR 1","t":846.7,"w":435},{"s":"WR 1","t":848.4,"w":457},{"s":"WR 1","t":849.3,"w":477},{"s":"WR 1","t":851,"w":507},{"s":"WR 1","t":852.8,"w":489},{"s":"WR 1","t":853.6,"w":464},{"s":"WR 1","t":855.3,"w":477},{"s":"WR 1","t":857.1,"w":489},{"s":"WR 1","t":857.9,"w":477},{"s":"WR 1","t":859.7,"w":457},{"s":"WR 1","t":861.4,"w":414},{"s":"WR 1","t":862.2,"w":381},{"s":"WR 1","t":864,"w":351},{"s":"WR 1","t":865.7,"w":331},{"s":"WR 1","t":866.6,"w":309},{"s":"WR 1","t":868.3,"w":288},{"s":"WR 1","t":870.9,"w":212},{"s":"WR 1","t":874.3,"w":161},{"s":"WR 1","t":876.9,"w":154},{"s":"WR 1","t":879.5,"w":204},{"s":"WR 1","t":882.9,"w":225},{"s":"WR 1","t":885.5,"w":183},{"s":"WR 1","t":888.1,"w":141},{"s":"WR 1","t":891.6,"w":161},{"s":"WR 1","t":894.1,"w":183},{"s":"WR 1","t":896.7,"w":204},{"s":"WR 1","t":900.2,"w":225},{"s":"WR 1","t":902.8,"w":246},{"s":"WR 1","t":905.3,"w":237},{"s":"WR 1","t":908.8,"w":225},{"s":"WR 1","t":911.4,"w":204},{"s":"WR 1","t":914,"w":237},{"s":"WR 1","t":917.4,"w":267},{"s":"WR 1","t":919.1,"w":280},{"s":"WR 1","t":921.7,"w":246},{"s":"WR 1","t":924.3,"w":246},{"s":"WR 1","t":926.9,"w":225},{"s":"WR 1","t":930.3,"w":225},{"s":"WR 1","t":932.9,"w":246},{"s":"WR 1","t":935.5,"w":267},{"s":"WR 1","t":939,"w":267},{"s":"WR 1","t":941.6,"w":225},{"s":"WR 1","t":944.1,"w":183},{"s":"WR 1","t":947.6,"w":141},{"s":"WR 1","t":950.2,"w":98},{"s":"WR 1","t":952.8,"w":78},{"s":"WR 1","t":956.2,"w":57},{"s":"WR 1","t":958.8,"w":35},{"s":"WR 1","t":961.4,"w":23},{"s":"WR 1","t":964.8,"w":35},{"s":"WR 1","t":967.4,"w":69},{"s":"WR 1","t":970,"w":120},{"s":"WR 1","t":973.4,"w":161},{"s":"WR 1","t":976,"w":161},{"s":"WR 1","t":978.6,"w":170},{"s":"WR 1","t":982.1,"w":183},{"s":"WR 1","t":985.5,"w":192},{"s":"WR 1","t":989,"w":183},{"s":"WR 1","t":991.6,"w":161},{"s":"WR 1","t":995,"w":161},{"s":"WR 1","t":997.6,"w":183},{"s":"WR 1","t":1000.2,"w":183},{"s":"WR 1","t":1003.6,"w":161},{"s":"WR 1","t":1006.2,"w":149},{"s":"WR 1","t":1008.8,"w":204},{"s":"WR 1","t":1011.4,"w":225},{"s":"WR 1","t":1013.1,"w":204},{"s":"WR 1","t":1014.8,"w":183},{"s":"WR 1","t":1016.6,"w":183},{"s":"WR 1","t":1019.1,"w":183},{"s":"WR 1","t":1021.7,"w":170},{"s":"WR 1","t":1025.2,"w":154},{"s":"WR 1","t":1027.8,"w":132},{"s":"WR 1","t":1030.3,"w":154},{"s":"WR 1","t":1033.8,"w":170},{"s":"WR 1","t":1036.4,"w":170},{"s":"WR 1","t":1039,"w":154},{"s":"WR 1","t":1042.4,"w":183},{"s":"WR 1","t":1045,"w":225},{"s":"WR 1","t":1046.7,"w":204},{"s":"WR 1","t":1049.3,"w":225},{"s":"WR 1","t":1051.9,"w":246},{"s":"WR 1","t":1055.3,"w":225},{"s":"WR 1","t":1057.9,"w":196},{"s":"WR 1","t":1060.5,"w":174},{"s":"WR 1","t":1064,"w":161},{"s":"WR 1","t":1066.6,"w":141},{"s":"WR 1","t":1069.1,"w":129},{"s":"WR 1","t":1072.6,"w":120},{"s":"WR 1","t":1075.2,"w":111},{"s":"WR 1","t":1077.8,"w":98},{"s":"WR 1","t":1081.2,"w":86},{"s":"WR 1","t":1083.8,"w":78},{"s":"WR 1","t":1086.4,"w":69},{"s":"WR 1","t":1088.1,"w":120},{"s":"WR 1","t":1089.8,"w":98},{"s":"WR 1","t":1090.7,"w":78},{"s":"WR 1","t":1092.4,"w":44},{"s":"WR 1","t":1094.1,"w":28},{"s":"WR 1","t":1095,"w":23},{"s":"WR 1","t":1097.6,"w":10},{"s":"WR 1","t":1099.3,"w":0},{"s":"WR 1","t":1116.6,"w":0},{"s":"WR 1","t":1117,"w":35},{"s":"WR 1","t":1122.6,"w":28},{"s":"WR 1","t":1125.2,"w":35},{"s":"WR 1","t":1128.6,"w":35},{"s":"WR 1","t":1130.3,"w":44},{"s":"WR 1","t":1132.9,"w":35},{"s":"WR 1","t":1133.8,"w":0},{"s":"WR 1","t":1144.1,"w":0}
]},
"mark": {"type": "line", "strokeWidth": 1},
"encoding": {
"x": {"field": "t", "type": "quantitative", "scale": {"domain": [420, 1170], "nice": false, "zero": false},
 "axis": {"values": [420, 461.667, 503.333, 545, 586.667, 628.333, 670, 711.667, 753.333, 795, 836.667, 878.333, 920, 961.667, 1003.333, 1045, 1086.667, 1128.333, 1170],
  "labelExpr": "['07:00','','08:23','','09:47','','11:10','','12:33','','13:57','','15:20','','16:44','','18:07','','19:30'][round((datum.value-420)/41.6667)]",
  "grid": true, "gridColor": "black", "gridOpacity": 1, "gridWidth": 1,
  "domainColor": "black", "tickColor": "black", "tickSize": 5,
  "labelFont": "Liberation Sans", "labelFontSize": 11, "labelColor": "black", "labelPadding": 7, "labelFlush": false, "labelOverlap": false,
  "title": "Leistungsverlauf vom 13.04.2010 - Maximalwert: 3396 W - Durchschnitt: 823 W - Tagesertrag: 10,30 kWh",
  "titleFont": "Liberation Sans", "titleFontSize": 12, "titleFontWeight": "bold", "titleColor": "black", "titlePadding": 9, "titleX": 420, "titleAlign": "center"}},
"y": {"field": "w", "type": "quantitative", "scale": {"domain": [0, 3400], "nice": false},
 "axis": {"values": [0, 680, 1360, 2040, 2720, 3400], "labelExpr": "datum.value + ' W'",
  "grid": true, "gridColor": "black", "gridOpacity": 1, "gridWidth": 1,
  "domainColor": "black", "tickColor": "black", "tickSize": 5,
  "labelFont": "Liberation Sans", "labelFontSize": 11, "labelColor": "black", "labelPadding": 5,
  "title": "© SunnyWeb", "titleFont": "Liberation Sans", "titleFontSize": 11, "titleFontWeight": "normal", "titleColor": "black",
  "titleAngle": 0, "titleX": -54, "titleY": 319, "titleAlign": "left", "titleBaseline": "middle"}},
"color": {"field": "s", "type": "nominal", "scale": {"domain": ["WR 1", "WR 2", "Summe"], "range": ["#FF0000", "#800000", "#0000FF"]},
 "legend": {"orient": "none", "legendX": 0, "legendY": -19, "direction": "horizontal", "title": "Legende:", "titleOrient": "left",
  "titleFont": "Liberation Sans", "titleFontSize": 11, "titleFontWeight": "normal", "titleColor": "black", "titlePadding": 4, "titleBaseline": "middle",
  "labelFont": "Liberation Sans", "labelFontSize": 11, "labelOffset": -12, "columnPadding": 4, "symbolSize": 0.01, "symbolStrokeWidth": 0, "symbolOpacity": 0, "padding": 0,
  "labelExpr": "datum.label == 'Summe' ? datum.label : datum.label + ','",
  "labelColor": {"expr": "datum.value == 'WR 1' ? '#FF0000' : datum.value == 'WR 2' ? '#800000' : '#0000FF'"}}}
}}
]
}
